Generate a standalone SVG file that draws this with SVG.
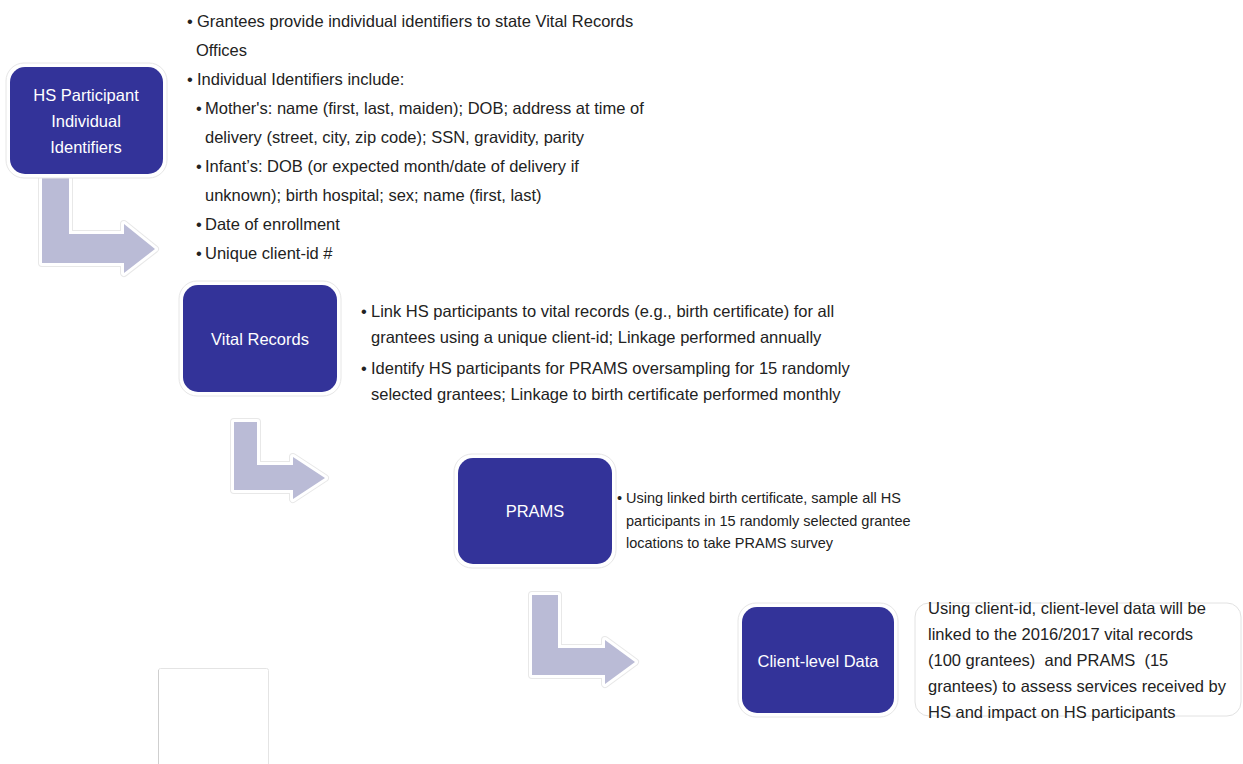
<svg xmlns="http://www.w3.org/2000/svg" xmlns:xlink="http://www.w3.org/1999/xlink" width="1243" height="764" viewBox="0 0 1243 764">
<style>
.node{fill:#333399}
.halo{fill:#ffffff;stroke:#e6e6e6;stroke-width:1}
.nt{font-family:"Liberation Sans",Arial,sans-serif;font-size:16.5px;fill:#ffffff;text-anchor:middle}
.bt{font-family:"Liberation Sans",Arial,sans-serif;font-size:16.5px;fill:#222222;white-space:pre}
.st{font-family:"Liberation Sans",Arial,sans-serif;font-size:14.5px;fill:#222222}
.arr{fill:#babbd6}
.arrO{fill:none;stroke:#e8e8e8;stroke-width:8;stroke-linejoin:round}
.arrW{fill:none;stroke:#ffffff;stroke-width:6;stroke-linejoin:round}
</style>
<defs>
<path id="a1" d="M42,175 H69 V234 H124 V224 L155,249 L124,273 V263 H42 Z"/>
<path id="a2" d="M234,422 H257 V465 H293 V457 L325,478 L293,499 V490 H234 Z"/>
<path id="a3" d="M532,595 H558 V648 H605 V640 L635,662 L605,684 V675 H532 Z"/>
</defs>
<rect width="1243" height="764" fill="#ffffff"/>

<g id="connectors">
<use xlink:href="#a1" class="arrO"/><use xlink:href="#a1" class="arrW"/><use xlink:href="#a1" class="arr"/>
<use xlink:href="#a2" class="arrO"/><use xlink:href="#a2" class="arrW"/><use xlink:href="#a2" class="arr"/>
<use xlink:href="#a3" class="arrO"/><use xlink:href="#a3" class="arrW"/><use xlink:href="#a3" class="arr"/>
</g>

<g id="node-hs">
<rect class="halo" x="6" y="63" width="161" height="115" rx="18"/>
<rect class="node" x="10" y="67" width="153" height="107" rx="15"/>
<text class="nt" x="86" y="101">HS Participant</text>
<text class="nt" x="86" y="127">Individual</text>
<text class="nt" x="86" y="153">Identifiers</text>
</g>

<g id="node-vital">
<rect class="halo" x="179" y="281" width="162" height="115" rx="18"/>
<rect class="node" x="183" y="285" width="154" height="107" rx="15"/>
<text class="nt" x="260" y="345">Vital Records</text>
</g>

<g id="node-prams">
<rect class="halo" x="454" y="454" width="162" height="114" rx="18"/>
<rect class="node" x="458" y="458" width="154" height="106" rx="15"/>
<text class="nt" x="535" y="517">PRAMS</text>
</g>

<g id="node-client">
<rect class="halo" x="738" y="603" width="160" height="114" rx="18"/>
<rect class="node" x="742" y="607" width="152" height="106" rx="15"/>
<text class="nt" x="818" y="667">Client-level Data</text>
</g>

<g id="text-hs">
<text class="bt" x="187" y="27">•</text><text class="bt" x="197" y="27">Grantees provide individual identifiers to state Vital Records</text>
<text class="bt" x="196" y="56">Offices</text>
<text class="bt" x="187" y="85">•</text><text class="bt" x="197" y="85">Individual Identifiers include:</text>
<text class="bt" x="196" y="114">•</text><text class="bt" x="205" y="114">Mother's: name (first, last, maiden); DOB; address at time of</text>
<text class="bt" x="205" y="143">delivery (street, city, zip code); SSN, gravidity, parity</text>
<text class="bt" x="196" y="172">•</text><text class="bt" x="205" y="172">Infant’s: DOB (or expected month/date of delivery if</text>
<text class="bt" x="205" y="201">unknown); birth hospital; sex; name (first, last)</text>
<text class="bt" x="196" y="230">•</text><text class="bt" x="205" y="230">Date of enrollment</text>
<text class="bt" x="196" y="259">•</text><text class="bt" x="205" y="259">Unique client-id #</text>
</g>

<g id="text-vital">
<text class="bt" x="361" y="317">•</text><text class="bt" x="371" y="317">Link HS participants to vital records (e.g., birth certificate) for all</text>
<text class="bt" x="371" y="343">grantees using a unique client-id; Linkage performed annually</text>
<text class="bt" x="361" y="374">•</text><text class="bt" x="371" y="374">Identify HS participants for PRAMS oversampling for 15 randomly</text>
<text class="bt" x="371" y="400">selected grantees; Linkage to birth certificate performed monthly</text>
</g>

<g id="text-prams">
<text class="st" x="617" y="503">•</text><text class="st" x="626" y="503">Using linked birth certificate, sample all HS</text>
<text class="st" x="626" y="526">participants in 15 randomly selected grantee</text>
<text class="st" x="626" y="548">locations to take PRAMS survey</text>
</g>

<g id="text-client">
<rect x="915" y="603" width="326" height="113" rx="14" fill="none" stroke="#e2e2e2" stroke-width="1"/>
<text class="bt" x="928" y="614">Using client-id, client-level data will be</text>
<text class="bt" x="928" y="640">linked to the 2016/2017 vital records</text>
<text class="bt" x="928" y="666">(100 grantees)  and PRAMS  (15</text>
<text class="bt" x="928" y="692">grantees) to assess services received by</text>
<text class="bt" x="928" y="718">HS and impact on HS participants</text>
</g>

<g id="blank-box">
<rect x="158.5" y="668.5" width="110" height="100" rx="2" fill="#ffffff" stroke="#e4e4e4" stroke-width="1"/>
<line x1="158.5" y1="670" x2="158.5" y2="764" stroke="#cfcfcf" stroke-width="1"/>
</g>
</svg>
